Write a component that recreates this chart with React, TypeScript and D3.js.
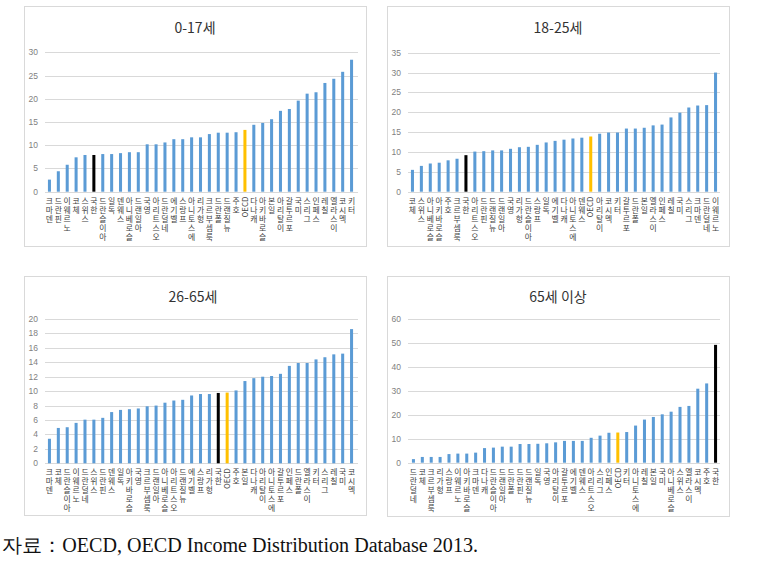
import * as d3 from "d3";

// 0-17세
const childNames = ["덴마크", "핀란드", "노르웨이", "체코", "스위스", "한국", "아이슬란드", "독일", "스웨덴", "슬로베니아", "아일랜드", "영국", "오스트리아", "네덜란드", "벨기에", "프랑스", "에스토니아", "헝가리", "룩셈부르크", "폴란드", "뉴질랜드", "호주", "OECD", "캐나다", "슬로바키아", "일본", "이탈리아", "포르투갈", "미국", "그리스", "스페인", "칠레", "이스라엘", "멕시코", "터키"];
const childValues = [2.6, 4.4, 5.8, 7.4, 7.9, 7.9, 8.1, 8.1, 8.3, 8.5, 8.5, 10.2, 10.2, 10.6, 11.3, 11.3, 11.7, 11.7, 12.4, 12.7, 12.7, 12.8, 13.3, 14.4, 14.8, 15.6, 17.4, 17.8, 19.6, 21.1, 21.4, 23.4, 24.3, 25.8, 28.4];

// 18-25세
const youthNames = ["체코", "스위스", "슬로베니아", "슬로바키아", "호주", "룩셈부르크", "한국", "오스트리아", "핀란드", "뉴질랜드", "아일랜드", "영국", "헝가리", "아이슬란드", "프랑스", "독일", "벨기에", "캐나다", "에스토니아", "스웨덴", "OECD", "이탈리아", "멕시코", "터키", "포르투갈", "폴란드", "일본", "이스라엘", "스페인", "칠레", "미국", "그리스", "덴마크", "네덜란드", "노르웨이"];
const youthValues = [5.5, 6.5, 7.1, 7.3, 7.9, 8.3, 9.2, 10.1, 10.2, 10.4, 10.4, 10.8, 11.2, 11.3, 11.8, 12.4, 12.8, 13.1, 13.4, 13.6, 13.9, 14.6, 14.9, 14.9, 15.9, 15.9, 16.1, 16.7, 16.9, 18.7, 19.9, 21.2, 21.7, 21.8, 30.0];

// 26-65세
const workNames = ["덴마크", "체코", "아이슬란드", "노르웨이", "네덜란드", "스위스", "핀란드", "스웨덴", "독일", "슬로바키아", "영국", "룩셈부르크", "아일랜드", "슬로베니아", "오스트리아", "뉴질랜드", "벨기에", "프랑스", "헝가리", "한국", "OECD", "호주", "일본", "캐나다", "이탈리아", "에스토니아", "포르투갈", "스페인", "폴란드", "이스라엘", "터키", "그리스", "칠레", "미국", "멕시코"];
const workValues = [3.4, 4.9, 5.0, 5.6, 6.05, 6.05, 6.3, 7.1, 7.4, 7.5, 7.6, 7.9, 8.0, 8.4, 8.7, 8.8, 9.4, 9.6, 9.6, 9.75, 9.8, 10.1, 11.4, 11.8, 12.0, 12.1, 12.4, 13.5, 13.9, 13.9, 14.4, 14.7, 15.1, 15.2, 18.6];

// 65세 이상
const elderNames = ["네덜란드", "체코", "룩셈부르크", "헝가리", "프랑스", "노르웨이", "슬로바키아", "덴마크", "캐나다", "아이슬란드", "아일랜드", "폴란드", "핀란드", "뉴질랜드", "독일", "영국", "이탈리아", "포르투갈", "벨기에", "스웨덴", "오스트리아", "그리스", "스페인", "OECD", "터키", "에스토니아", "칠레", "일본", "미국", "슬로베니아", "스위스", "이스라엘", "멕시코", "호주", "한국"];
const elderValues = [1.5, 2.4, 2.4, 2.4, 3.6, 3.8, 3.8, 4.2, 6.1, 6.3, 6.7, 6.7, 7.8, 7.8, 7.9, 8.1, 8.5, 9.1, 9.1, 9.1, 10.4, 11.3, 12.5, 12.6, 12.8, 15.5, 18.0, 19.1, 20.2, 21.3, 23.3, 23.7, 30.9, 33.1, 49.2];

const titles = ["0-17세", "18-25세", "26-65세", "65세 이상"];
const yMaxes = [30, 35, 20, 60];
const yTickSteps = [5, 5, 2, 10];
const sourceText = "자료：OECD, OECD Income Distribution Database 2013.";

const BLUE = "#5B9BD5";
const KR = "'Noto Sans CJK KR', 'Noto Sans', sans-serif";

interface PanelProps {
  title: string;
  names: string[];
  values: number[];
  yMax: number;
  tickStep: number;
  box: { x: number; y: number; w: number; h: number };
  band: [number, number];
  grid: [number, number];
  yRange: [number, number];
  titleX: number;
  titleY: number;
}

function Panel(p: PanelProps) {
  const x = d3.scaleBand<string>().domain(p.names).range(p.band).paddingInner(0.66).paddingOuter(0.33);
  const y = d3.scaleLinear().domain([0, p.yMax]).range(p.yRange);
  const ticks = d3.range(0, p.yMax + 0.001, p.tickStep);
  const y0 = y(0);
  const charStep = 9;
  const fs = 7.8;

  return (
    <g>
      <rect x={p.box.x + 0.5} y={p.box.y + 0.5} width={p.box.w} height={p.box.h} fill="#fff" stroke="#d9d9d9" />
      <text x={p.titleX} y={p.titleY} textAnchor="middle" fontSize={14} fill="#333" fontFamily={KR}>
        {p.title}
      </text>
      {ticks.map((t) => (
        <g key={t}>
          <line x1={p.grid[0]} x2={p.grid[1]} y1={Math.round(y(t)) + 0.5} y2={Math.round(y(t)) + 0.5} stroke="#d9d9d9" />
          <text x={p.grid[0] - 7} y={y(t)} dy="0.35em" textAnchor="end" fontSize={8.5} fill="#7f7f7f" fontFamily="'Liberation Sans', sans-serif">
            {t}
          </text>
        </g>
      ))}
      {p.names.map((n, i) => {
        const v = p.values[i];
        const fill = n === "한국" ? "#000" : n === "OECD" ? "#FFC000" : BLUE;
        return <rect key={n} x={x(n)} y={y(v)} width={x.bandwidth()} height={y0 - y(v)} fill={fill} />;
      })}
      {p.names.map((n) => {
        const cx = (x(n) ?? 0) + x.bandwidth() / 2;
        const top = y0 + 5;
        if (n === "OECD") {
          return (
            <text key={n} transform={`translate(${cx},${top}) rotate(-90)`} dy="0.35em" textAnchor="end" fontSize={fs} fill="#404040" fontFamily={KR}>
              {n}
            </text>
          );
        }
        // upright glyphs stacked, first character at the bottom
        const chars = Array.from(n);
        const k = chars.length;
        return (
          <text key={n} textAnchor="middle" fontSize={fs} fill="#404040" fontFamily={KR}>
            {chars.map((c, j) => (
              <tspan key={j} x={cx} y={top + 7 + (k - 1 - j) * charStep}>
                {c}
              </tspan>
            ))}
          </text>
        );
      })}
    </g>
  );
}

export default function App() {
  const names = [childNames, youthNames, workNames, elderNames];
  const values = [childValues, youthValues, workValues, elderValues];
  const layouts = [
    { box: { x: 24, y: 6, w: 342, h: 240 }, band: [45, 356] as [number, number], grid: [45, 358] as [number, number], yRange: [191.7, 52.3] as [number, number], titleX: 195, titleY: 33 },
    { box: { x: 387, y: 6, w: 342, h: 240 }, band: [408, 720] as [number, number], grid: [408, 720] as [number, number], yRange: [191.7, 52.7] as [number, number], titleX: 558, titleY: 33 },
    { box: { x: 24, y: 276, w: 342, h: 239 }, band: [45, 356] as [number, number], grid: [45, 358] as [number, number], yRange: [463.3, 319] as [number, number], titleX: 193, titleY: 302 },
    { box: { x: 387, y: 276, w: 342, h: 240 }, band: [409, 720] as [number, number], grid: [408, 720] as [number, number], yRange: [462.7, 319] as [number, number], titleX: 558, titleY: 302 },
  ];

  return (
    <svg width={758} height={575} style={{ position: "absolute", left: 0, top: 0, background: "#fff" }}>
      <rect width={758} height={575} fill="#fff" />
      {layouts.map((l, i) => (
        <Panel key={i} title={titles[i]} names={names[i]} values={values[i]} yMax={yMaxes[i]} tickStep={yTickSteps[i]} {...l} />
      ))}
      <text x={2} y={552} fontSize={20} fill="#111" fontFamily="'Liberation Serif', serif" textLength={476} lengthAdjust="spacingAndGlyphs">
        {sourceText}
      </text>
    </svg>
  );
}
